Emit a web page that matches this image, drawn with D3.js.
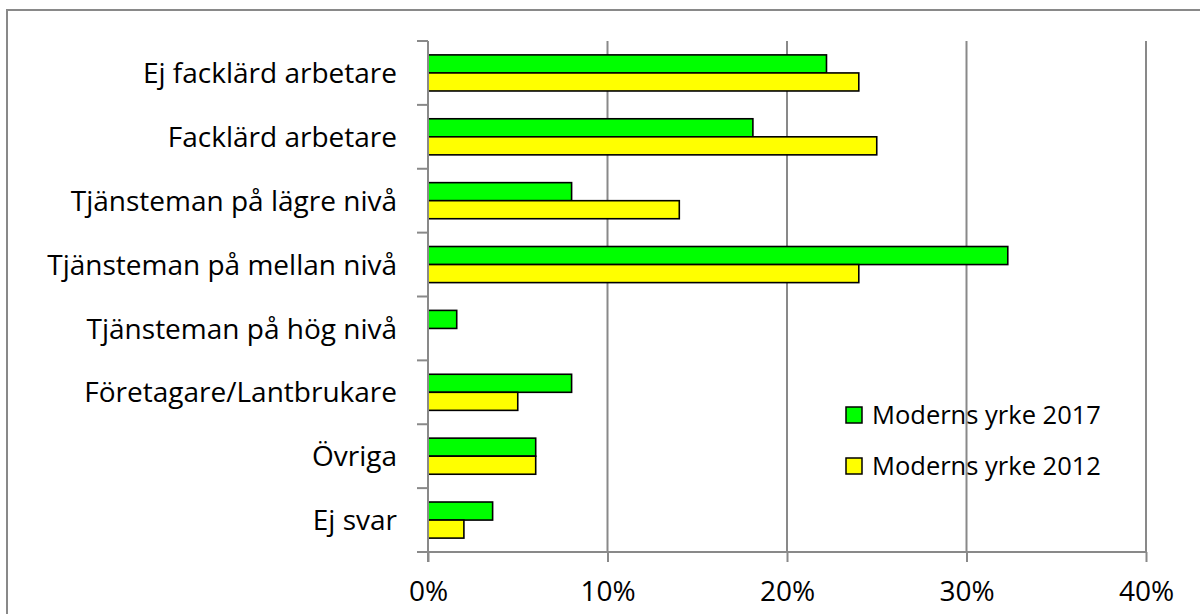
<!DOCTYPE html>
<html>
<head>
<meta charset="utf-8">
<script src="https://cdn.jsdelivr.net/npm/d3@7"></script>
<style>
html,body{margin:0;padding:0;background:#fff;}
svg{display:block;}
text{font-family:"Open Sans",Lato,sans-serif;fill:#000;}
</style>
</head>
<body>
<svg id="chart" width="1200" height="614"></svg>
<script>
const categories = ["Ej facklärd arbetare","Facklärd arbetare","Tjänsteman på lägre nivå","Tjänsteman på mellan nivå","Tjänsteman på hög nivå","Företagare/Lantbrukare","Övriga","Ej svar"];
const seriesNames = ["Moderns yrke 2017","Moderns yrke 2012"];
const values2017 = [22.2, 18.1, 8.0, 32.3, 1.6, 8.0, 6.0, 3.6];
const values2012 = [24.0, 25.0, 14.0, 24.0, 0, 5.0, 6.0, 2.0];
const xTicks = [0, 10, 20, 30, 40];
const colors = ["#00ff00", "#ffff00"];

(function(){
const svg = d3.select("#chart");
const pLeft = 428, pRight = 1146, pTop = 41, pBottom = 552;
const axisColor = "#898989";
const fs = 28, legendFs = 25.5;

// outer border
svg.append("rect").attr("x",7).attr("y",10).attr("width",1300).attr("height",800)
  .attr("fill","none").attr("stroke",axisColor).attr("stroke-width",2);

const x = d3.scaleLinear().domain([0,40]).range([pLeft,pRight]);
const y = d3.scaleBand().domain(categories).range([pTop,pBottom]).padding(0);
const ySub = d3.scaleBand().domain(seriesNames).range([0,y.bandwidth()]).paddingInner(0).paddingOuter(0.77);

// gridlines
svg.append("g").selectAll("line").data(xTicks.filter(d=>d>0)).join("line")
  .attr("x1",d=>x(d)).attr("x2",d=>x(d)).attr("y1",pTop).attr("y2",pBottom)
  .attr("stroke",axisColor).attr("stroke-width",2);

// bars
const data = [];
categories.forEach((c,i)=>{
  data.push({c, s:seriesNames[0], v:values2017[i], col:colors[0]});
  data.push({c, s:seriesNames[1], v:values2012[i], col:colors[1]});
});
svg.append("g").selectAll("rect").data(data.filter(d=>d.v>0)).join("rect")
  .attr("x",x(0)).attr("y",d=>y(d.c)+ySub(d.s))
  .attr("width",d=>x(d.v)-x(0)).attr("height",ySub.bandwidth())
  .attr("fill",d=>d.col).attr("stroke","#000").attr("stroke-width",1.6);

// x axis
const xAxis = d3.axisBottom(x).tickValues(xTicks).tickFormat(d=>d+"%").tickSize(10).tickPadding(19);
const gx = svg.append("g").attr("transform",`translate(0,${pBottom})`).call(xAxis);
gx.select(".domain").attr("stroke",axisColor).attr("stroke-width",2).attr("d",`M${pLeft},0H${pRight}`);
gx.selectAll(".tick line").attr("stroke",axisColor).attr("stroke-width",2);
gx.selectAll(".tick text").attr("font-size",fs).attr("font-family","Open Sans").attr("fill","#000");

// y axis (ticks at band boundaries)
const bounds = categories.map(c=>y(c)).concat([pBottom]);
svg.append("line").attr("x1",pLeft).attr("x2",pLeft).attr("y1",pTop).attr("y2",pBottom+10)
  .attr("stroke",axisColor).attr("stroke-width",2);
svg.append("g").selectAll("line").data(bounds).join("line")
  .attr("x1",pLeft-11).attr("x2",pLeft).attr("y1",d=>d).attr("y2",d=>d)
  .attr("stroke",axisColor).attr("stroke-width",2);
svg.append("g").selectAll("text").data(categories).join("text")
  .attr("x",pLeft-31).attr("y",d=>y(d)+y.bandwidth()/2).attr("dy","0.36em")
  .attr("text-anchor","end").attr("font-size",fs).text(d=>d);

// legend
const lg = svg.append("g").attr("transform","translate(846,407)");
seriesNames.forEach((s,i)=>{
  const g = lg.append("g").attr("transform",`translate(0,${i*51})`);
  g.append("rect").attr("width",16).attr("height",16).attr("fill",colors[i]).attr("stroke","#000").attr("stroke-width",1.5);
  g.append("text").attr("x",26).attr("y",8).attr("dy","0.36em").attr("font-size",legendFs).text(s);
});
})();
</script>
</body>
</html>
